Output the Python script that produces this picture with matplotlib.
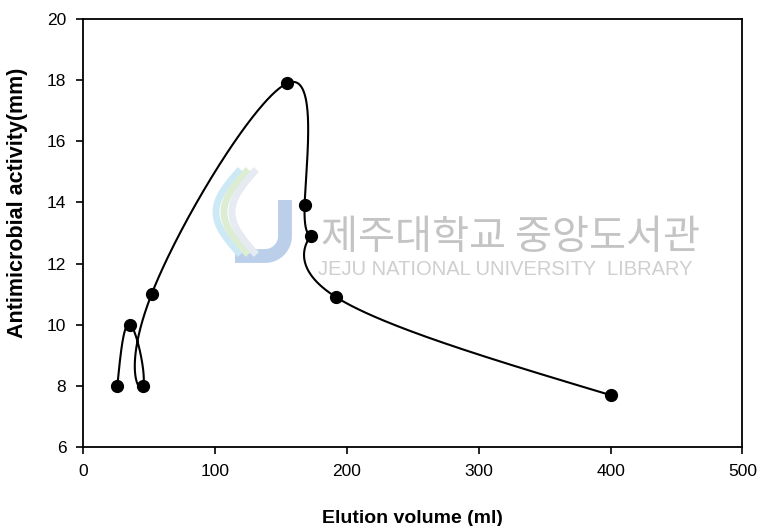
import matplotlib.pyplot as plt
import numpy as np

# elution data
elution_ml = [26, 36, 45.5, 52, 155, 168, 172.5, 192, 400]
activity_mm = [8, 10, 8, 11, 17.9, 13.9, 12.9, 10.9, 7.7]
x_ticks = [0, 100, 200, 300, 400, 500]
y_ticks = [6, 8, 10, 12, 14, 16, 18, 20]


def natural_spline(t, v, tt):
    # natural cubic spline through (t, v), evaluated at tt
    n = len(t)
    h = np.diff(t)
    A = np.zeros((n, n))
    b = np.zeros(n)
    A[0, 0] = A[-1, -1] = 1
    for i in range(1, n - 1):
        A[i, i - 1] = h[i - 1]
        A[i, i] = 2 * (h[i - 1] + h[i])
        A[i, i + 1] = h[i]
        b[i] = 3 * ((v[i + 1] - v[i]) / h[i] - (v[i] - v[i - 1]) / h[i - 1])
    c = np.linalg.solve(A, b)
    out = np.empty_like(tt)
    for k, s in enumerate(tt):
        i = min(np.searchsorted(t, s, side='right') - 1, n - 2)
        d = s - t[i]
        bb = (v[i + 1] - v[i]) / h[i] - h[i] * (2 * c[i] + c[i + 1]) / 3
        dd = (c[i + 1] - c[i]) / (3 * h[i])
        out[k] = v[i] + bb * d + c[i] * d ** 2 + dd * d ** 3
    return out


plt.rcParams['font.family'] = ['Liberation Sans', 'Noto Sans CJK KR', 'DejaVu Sans']
W, H = 758, 526
fig = plt.figure(figsize=(W / 100, H / 100), dpi=100)
ax = fig.add_axes([0.1095, 0.150, 0.870, 0.814])

t = np.arange(len(elution_ml), dtype=float)
tt = np.linspace(0, t[-1], 800)
xs = natural_spline(t, np.array(elution_ml, float), tt)
ys = natural_spline(t, np.array(activity_mm, float), tt)


# library watermark (faint logo + text), drawn in pixel positions
def px(x, y):
    return np.asarray(x) / W, 1 - np.asarray(y) / H


a = np.linspace(0, np.pi / 2, 30)
jx, jy = px(np.r_[285, 285, 265 + 20 * np.cos(a), 235],
            np.r_[200, 236, 236 + 20 * np.sin(a), 256])
fig.add_artist(plt.Line2D(jx, jy, color='#bccfea', lw=10, solid_capstyle='butt', zorder=0))
s = np.linspace(0, 1, 40)
for dx, col in [(0, '#cde9f5'), (8, '#dcedd3'), (16, '#e6ebf2')]:
    sx, sy = px(238 + dx - 22 * np.sin(np.pi * s), 172 + 80 * s)
    fig.add_artist(plt.Line2D(sx, sy, color=col, lw=5, zorder=0))
fig.text(0.423, 0.548, '제주대학교 중앙도서관', fontsize=29, color='#c4c4c4',
         family=['Noto Sans CJK KR'], va='center', zorder=0)
fig.text(0.419, 0.488, 'JEJU NATIONAL UNIVERSITY  LIBRARY', fontsize=14.5,
         color='#cfcfcf', va='center', zorder=0)

ax.plot(xs, ys, color='black', lw=1.5, zorder=3)
ax.plot(elution_ml, activity_mm, 'o', color='black', ms=8.5, zorder=4)

ax.set_xlim(0, 500)
ax.set_ylim(6, 20)
ax.set_xticks(x_ticks)
ax.set_yticks(y_ticks)
ax.patch.set_alpha(0)
for sp in ax.spines.values():
    sp.set_linewidth(1.3)
ax.tick_params(direction='out', length=5, width=1.2, labelsize=12.5, pad=7)
ax.set_xlabel('Elution volume (ml)', fontsize=14, fontweight='bold')
ax.xaxis.set_label_coords(0.5, -0.148)
ax.set_ylabel('Antimicrobial activity(mm)', fontsize=15.5, fontweight='bold')
ax.yaxis.set_label_coords(-0.083, 0.57)

fig.savefig('out.png', dpi=100)
